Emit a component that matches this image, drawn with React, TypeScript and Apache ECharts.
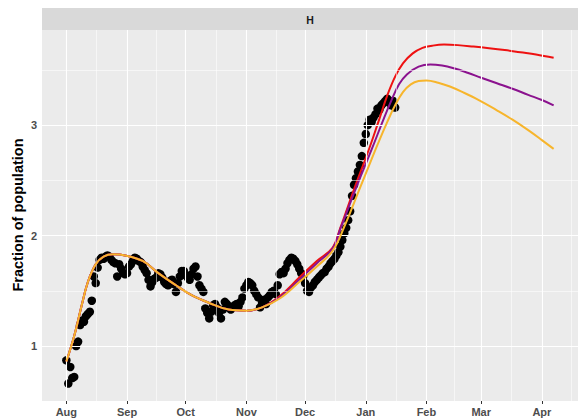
import React, { useEffect, useRef } from 'react';
import * as echarts from 'echarts';

// x values are days since 1 August
const monthLabels = ['Aug', 'Sep', 'Oct', 'Nov', 'Dec', 'Jan', 'Feb', 'Mar', 'Apr'];
const monthDays = [0, 31, 61, 92, 122, 153, 184, 212, 243];
const minorDays = [15.5, 46, 76.5, 107, 137.5, 168.5, 198, 227.5, 258];
const yMajor = [1, 2, 3];
const yMinor = [1.5, 2.5, 3.5];

// daily observations, index = day since 1 August
const observed = [
  0.87, 0.66, 0.81, 0.71, 0.72, 1.0, 1.04, 1.19, 1.23, 1.22,
  1.27, 1.29, 1.31, 1.41, 1.63, 1.57, 1.71, 1.78, 1.8, 1.79,
  1.81, 1.82, 1.81, 1.78, 1.76, 1.75, 1.63, 1.74, 1.7, 1.66,
  1.65, 1.66, 1.72, 1.74, 1.77, 1.8, 1.79, 1.77, 1.76, 1.72,
  1.69, 1.66, 1.6, 1.54, 1.58, 1.61, 1.62, 1.66, 1.65, 1.62,
  1.58, 1.56, 1.55, 1.59, 1.6, 1.56, 1.49, 1.57, 1.63, 1.68,
  1.68, 1.64, 1.62, 1.6, 1.65, 1.7, 1.72, 1.63, 1.55, 1.52,
  1.49, 1.34, 1.3, 1.25, 1.31, 1.37, 1.38, 1.35, 1.3, 1.25,
  1.33, 1.4, 1.38, 1.36, 1.33, 1.35, 1.37, 1.38, 1.36, 1.4,
  1.44, 1.52, 1.55, 1.58, 1.57, 1.55, 1.5, 1.47, 1.44, 1.35,
  1.39, 1.42, 1.38, 1.44, 1.46, 1.49, 1.5, 1.47, 1.55, 1.65,
  1.67, 1.66, 1.7, 1.75, 1.78, 1.8, 1.79, 1.77, 1.74, 1.7,
  1.66, 1.63, 1.57, 1.5, 1.49, 1.53, 1.55, 1.58, 1.6, 1.62,
  1.64, 1.66, 1.67, 1.7, 1.72, 1.75, 1.77, 1.79, 1.82, 1.85,
  1.9, 1.96, 2.02, 2.07, 2.14, 2.22, 2.36, 2.46, 2.52, 2.58,
  2.64, 2.72, 2.84, 2.92, 3.0, 3.05, 3.03, 3.07, 3.1, 3.15,
  3.14, 3.18, 3.2, 3.22, 3.24, 3.21, 3.18, 3.22, 3.16,
];

// shared part of the three fitted curves
const fitCommonDays = [0, 4, 8, 11, 15, 19, 24, 30, 39, 47, 56, 64, 73, 83, 92, 100];
const fitCommonVals = [0.86, 1.09, 1.38, 1.58, 1.74, 1.81, 1.83, 1.82, 1.77, 1.66, 1.55, 1.46, 1.39, 1.33, 1.32, 1.35];

const redDays = [109, 119, 128, 136, 140, 147, 155, 160, 164, 168, 172, 177, 182, 187, 193, 200, 208, 216, 224, 232, 240, 249];
const redVals = [1.45, 1.62, 1.77, 1.89, 2.07, 2.42, 2.8, 3.06, 3.27, 3.44, 3.56, 3.65, 3.7, 3.72, 3.73, 3.725, 3.712, 3.697, 3.68, 3.66, 3.64, 3.61];

const purpleDays = [109, 119, 128, 136, 140, 148, 156, 162, 166, 170, 174, 180, 186, 192, 198, 205, 212, 220, 228, 236, 243, 249];
const purpleVals = [1.44, 1.6, 1.75, 1.88, 2.06, 2.43, 2.78, 3.05, 3.22, 3.37, 3.46, 3.53, 3.55, 3.54, 3.515, 3.475, 3.43, 3.38, 3.33, 3.275, 3.228, 3.18];

const orangeDays = [109, 119, 128, 136, 142, 150, 158, 164, 168, 172, 176, 180, 184, 190, 196, 203, 211, 220, 228, 236, 243, 249];
const orangeVals = [1.43, 1.58, 1.72, 1.86, 2.08, 2.43, 2.78, 3.03, 3.18, 3.3, 3.37, 3.4, 3.405, 3.385, 3.35, 3.295, 3.225, 3.135, 3.05, 2.955, 2.865, 2.785];

const FONT = "'Liberation Sans', Arial, Helvetica, sans-serif";

function buildCurve(days: number[], vals: number[]) {
  const pts = fitCommonDays.map((d, i) => [d, fitCommonVals[i]]);
  days.forEach((d, i) => pts.push([d, vals[i]]));
  return pts;
}

function gridSeries(id: string, xs: number[], ys: number[], width: number) {
  return {
    id,
    type: 'line',
    data: [],
    z: 1,
    silent: true,
    markLine: {
      silent: true,
      symbol: 'none',
      label: { show: false },
      emphasis: { disabled: true },
      animation: false,
      lineStyle: { color: '#ffffff', width, type: 'solid' },
      data: [...xs.map((v) => ({ xAxis: v })), ...ys.map((v) => ({ yAxis: v }))],
    },
  };
}

export default function App() {
  const ref = useRef<HTMLDivElement>(null);

  useEffect(() => {
    document.body.style.margin = '0';
    if (!ref.current) return;
    const chart = echarts.init(ref.current, undefined, { renderer: 'svg' });

    const curve = (id: string, days: number[], vals: number[], color: string, z: number) => ({
      id,
      type: 'line',
      z,
      data: buildCurve(days, vals),
      smooth: 0.4,
      showSymbol: false,
      lineStyle: { color, width: 2 },
      silent: true,
    });

    chart.setOption({
      animation: false,
      grid: {
        left: 42,
        right: 0,
        top: 30,
        bottom: 18,
        show: true,
        backgroundColor: '#ebebeb',
        borderWidth: 0,
      },
      xAxis: {
        type: 'value',
        min: -12.45,
        max: 261.45,
        axisLine: { show: false },
        splitLine: { show: false },
        axisTick: {
          show: true,
          customValues: monthDays,
          length: 3,
          lineStyle: { color: '#333333', width: 1 },
        },
        axisLabel: {
          customValues: monthDays,
          formatter: (v: number) => {
            const i = monthDays.indexOf(Math.round(v));
            return i >= 0 ? monthLabels[i] : '';
          },
          color: '#4d4d4d',
          fontWeight: 'bold',
          fontSize: 11,
          fontFamily: FONT,
          margin: 5,
        },
      },
      yAxis: {
        type: 'value',
        min: 0.502,
        max: 3.862,
        axisLine: { show: false },
        splitLine: { show: false },
        axisTick: {
          show: true,
          customValues: yMajor,
          length: 3,
          lineStyle: { color: '#333333', width: 1 },
        },
        axisLabel: {
          customValues: yMajor,
          color: '#4d4d4d',
          fontWeight: 'bold',
          fontSize: 11,
          fontFamily: FONT,
          margin: 5,
        },
      },
      graphic: [
        {
          type: 'rect',
          shape: { x: 42, y: 8, width: 536, height: 22 },
          style: { fill: '#d9d9d9' },
          silent: true,
        },
        {
          type: 'text',
          x: 310,
          y: 19.5,
          style: {
            text: 'H',
            fill: '#1a1a1a',
            font: `bold 10.5px ${FONT}`,
            align: 'center',
            verticalAlign: 'middle',
          },
          silent: true,
        },
        {
          type: 'text',
          x: 18,
          y: 215,
          rotation: Math.PI / 2,
          style: {
            text: 'Fraction of population',
            fill: '#000000',
            font: `bold 14.5px ${FONT}`,
            align: 'center',
            verticalAlign: 'middle',
          },
          silent: true,
        },
      ],
      series: [
        gridSeries('minorGrid', minorDays, yMinor, 0.55),
        gridSeries('majorGrid', monthDays, yMajor, 1.1),
        {
          id: 'observed',
          type: 'scatter',
          z: 2,
          data: observed.map((v, i) => [i, v]),
          symbol: 'circle',
          symbolSize: 8.5,
          itemStyle: { color: '#000000', opacity: 1 },
          silent: true,
        },
        curve('red', redDays, redVals, '#ee1111', 3),
        curve('purple', purpleDays, purpleVals, '#8b128e', 4),
        curve('orange', orangeDays, orangeVals, '#f7b52c', 5),
      ],
    });

    return () => chart.dispose();
  }, []);

  return (
    <div
      ref={ref}
      style={{ position: 'absolute', left: 0, top: 0, width: 578, height: 419 }}
    />
  );
}
